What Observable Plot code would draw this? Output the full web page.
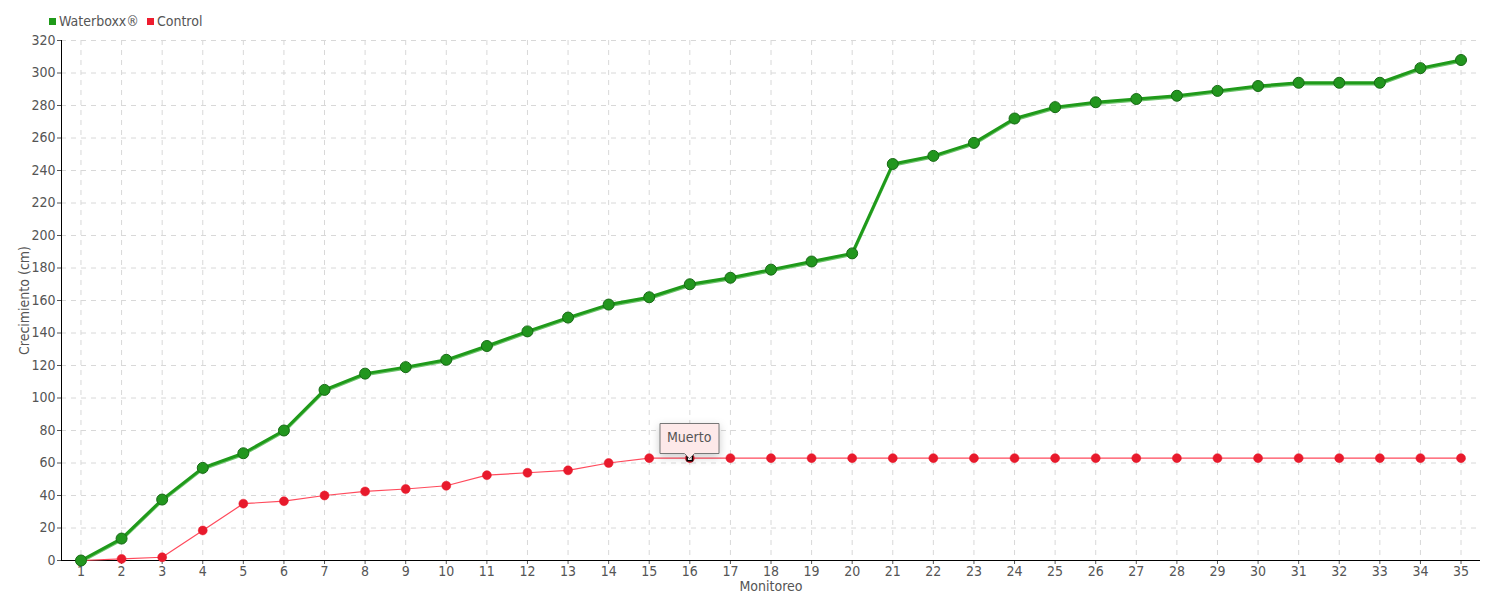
<!DOCTYPE html>
<html>
<head>
<meta charset="utf-8">
<script src="https://cdn.jsdelivr.net/npm/d3@7"></script>
<script src="https://cdn.jsdelivr.net/npm/@observablehq/plot@0.6"></script>
<style>
  body { margin: 0; background: #fff; font-family: "Liberation Sans Narrow", "DejaVu Sans Condensed", sans-serif; }
  #wrap { position: relative; width: 1500px; height: 600px; }
  #legend { position: absolute; top: 13px; left: 49px; font-size: 14px; color: #555; display: flex; gap: 8px; align-items: center; }
  #legend span.sw { display: inline-block; width: 7px; height: 7px; margin-right: 3px; vertical-align: middle; position: relative; top: -1px; }
  #chart { position: absolute; top: 0; left: 0; }
</style>
</head>
<body>
<div id="wrap">
  <div id="chart"></div>
  <div id="legend"></div>
</div>
<script>
const monitoreo = d3.range(1, 36);
const waterboxx = [0, 13.5, 37.5, 57, 66, 80, 105, 115, 119, 123.5, 132, 141, 149.5, 157.5, 162, 170, 174, 179, 184, 189, 244, 249, 257, 272, 279, 282, 284, 286, 289, 292, 294, 294, 294, 303, 308];
const control = [0, 1, 2, 18.5, 35, 36.5, 40, 42.5, 44, 46, 52.5, 54, 55.5, 60, 63, 63, 63, 63, 63, 63, 63, 63, 63, 63, 63, 63, 63, 63, 63, 63, 63, 63, 63, 63, 63];
const seriesNames = ["Waterboxx®", "Control"];
const seriesColors = ["#1f9a1a", "#ee1c2e"];
const annotations = [{x: 16, label: "Muerto"}];
const yTicks = d3.range(0, 321, 20);

const wData = monitoreo.map((m, i) => ({x: m, y: waterboxx[i]}));
const cData = monitoreo.map((m, i) => ({x: m, y: control[i]}));
const annData = annotations.map(a => ({x: a.x, y: control[monitoreo.indexOf(a.x)], label: a.label}));

const legend = document.getElementById("legend");
seriesNames.forEach((n, i) => {
  const s = document.createElement("span");
  s.innerHTML = `<span class="sw" style="background:${seriesColors[i]}"></span>${n}`;
  legend.appendChild(s);
});

const marks = [
  Plot.gridY(yTicks, {stroke: "#d8d8d8", strokeOpacity: 1, strokeDasharray: "5,5"}),
  Plot.gridX(monitoreo, {stroke: "#d8d8d8", strokeOpacity: 1, strokeDasharray: "5,5"}),
  Plot.axisY(yTicks, {tickSize: 4, tickPadding: 2, fontSize: 14, color: "#555", label: "Crecimiento (cm)", labelAnchor: "center", labelArrow: "none", labelOffset: 42}),
  Plot.axisX(monitoreo, {tickSize: 4, tickPadding: 2, fontSize: 14, color: "#555", label: "Monitoreo", labelAnchor: "center", labelArrow: "none", labelOffset: 30}),
  Plot.frame({anchor: "left", stroke: "#000"}),
  Plot.ruleY([0], {stroke: "#000"}),
  Plot.line(cData, {x: "x", y: "y", stroke: "#ff4a5c", strokeWidth: 1.2}),
  Plot.dot(cData, {x: "x", y: "y", r: 4.5, fill: "#e81a2c", stroke: "#e81a2c", strokeWidth: 0.5}),
  Plot.line(wData, {x: "x", y: "y", stroke: "#6cc36a", strokeWidth: 2.5, dy: 1.5}),
  Plot.line(wData, {x: "x", y: "y", stroke: "#1f9a1a", strokeWidth: 3}),
  Plot.dot(wData, {x: "x", y: "y", r: 5.5, fill: "#22961e", stroke: "#176a15", strokeWidth: 1}),
  Plot.dot(annData, {x: "x", y: "y", symbol: "square", r: 3, fill: "#fff", stroke: "#000", strokeWidth: 1.5}),
];
if (typeof Plot.tip === "function") {
  marks.push(Plot.tip(annData, {x: "x", y: "y", title: "label", anchor: "bottom", fill: "#fde9e9", stroke: "#777", textColor: "#555", fontSize: 14, textPadding: 7, pointerSize: 10}));
} else {
  marks.push(Plot.text(annData, {x: "x", y: "y", text: "label", dy: -20, fontSize: 14, fill: "#555"}));
}

const chart = Plot.plot({
  width: 1500,
  height: 600,
  marginLeft: 61,
  marginRight: 20,
  marginTop: 40,
  marginBottom: 40,
  style: {fontFamily: "'Liberation Sans Narrow', 'DejaVu Sans Condensed', sans-serif", fontSize: "14px", color: "#555", background: "#fff"},
  x: {type: "point", domain: monitoreo, padding: 0.48, round: false},
  y: {domain: [0, 320]},
  marks
});
document.getElementById("chart").appendChild(chart);
</script>
</body>
</html>
